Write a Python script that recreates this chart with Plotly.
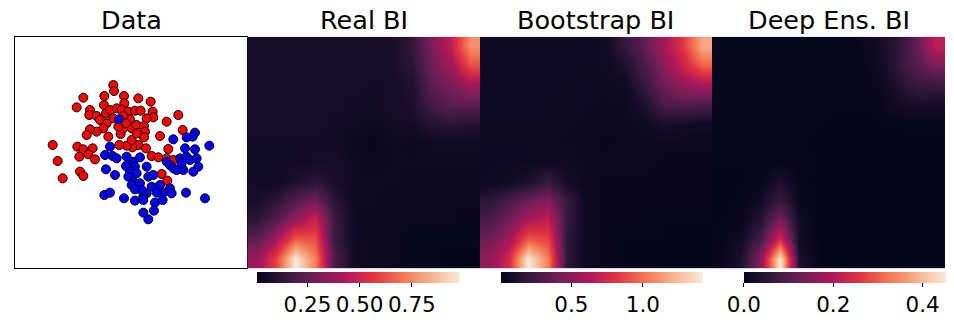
import numpy as np
import plotly.graph_objects as go

# ---------------- data ----------------
titles = ["Data", "Real BI", "Bootstrap BI", "Deep Ens. BI"]

red_x = [3.40, 3.42, 3.13, 3.72, 4.15, 4.52, 2.50, 2.30, 3.12, 3.73, 2.70, 2.68, 2.90, 3.00,
         3.18, 3.30, 3.50, 3.65, 3.85, 4.05, 4.22, 4.58, 4.60, 4.40, 3.90, 3.70, 3.40, 3.20,
         3.10, 2.90, 2.70, 2.60, 3.25, 3.62, 3.70, 3.95, 4.10, 4.32, 4.35, 4.32, 4.80, 5.00,
         5.35, 5.48, 5.05, 4.15, 3.97, 3.80, 3.58, 4.38, 4.55, 4.75, 5.00, 5.20, 1.58, 2.32,
         2.50, 2.78, 2.65, 2.38, 2.85, 1.73, 1.88, 2.40, 2.50, 4.85, 5.02, 3.95, 4.10, 3.55,
         3.78]
red_y = [5.70, 5.52, 5.37, 5.37, 5.30, 5.20, 5.32, 5.03, 5.10, 5.15, 4.95, 4.80, 4.77, 4.65,
         4.85, 4.95, 5.00, 4.95, 4.90, 4.93, 4.93, 4.90, 4.73, 4.70, 4.67, 4.77, 4.70, 4.55,
         4.40, 4.30, 4.37, 4.20, 4.15, 4.23, 4.40, 4.40, 4.50, 4.47, 4.30, 4.13, 4.17, 4.60,
         4.80, 4.35, 3.78, 3.90, 3.83, 3.88, 3.90, 3.80, 3.57, 3.53, 3.50, 3.45, 3.90, 3.85,
         3.77, 3.80, 3.62, 3.55, 3.47, 3.42, 2.90, 3.10, 2.97, 3.03, 2.83, 4.05, 4.25, 4.45,
         4.55]

blue_x = [3.57, 5.85, 5.78, 5.60, 5.20, 6.28, 5.55, 5.85, 3.30, 3.15, 3.38, 3.50, 3.80, 4.00,
          4.20, 3.78, 4.05, 3.90, 4.10, 4.40, 5.00, 5.10, 5.40, 5.60, 5.70, 5.90, 5.95, 5.80,
          5.50, 5.20, 3.18, 3.45, 3.85, 4.00, 3.95, 4.20, 4.45, 4.60, 4.55, 4.80, 4.90, 5.10,
          5.15, 4.70, 4.40, 4.30, 4.25, 4.05, 3.13, 3.30, 3.72, 4.05, 4.30, 4.65, 4.88, 5.58,
          6.15, 4.62, 4.30, 4.45, 5.30, 5.45]
blue_y = [4.67, 4.27, 4.15, 4.13, 4.07, 3.88, 3.80, 3.77, 3.85, 3.60, 3.57, 3.50, 3.55, 3.40,
          3.53, 3.27, 3.25, 3.10, 3.05, 3.25, 3.40, 3.30, 3.50, 3.55, 3.45, 3.50, 3.25, 3.10,
          3.15, 3.20, 3.17, 3.00, 2.95, 2.80, 2.70, 2.75, 2.95, 3.00, 2.65, 2.70, 2.47, 2.60,
          2.45, 2.47, 2.45, 2.35, 2.55, 2.57, 2.40, 2.47, 2.30, 2.23, 2.25, 2.17, 2.25, 2.47,
          2.30, 1.93, 1.87, 1.67, 3.15, 3.35]

# heat-map grids (12 x 12, first row = top of the panel)
real_bi = [
    [0.06, 0.06, 0.06, 0.06, 0.06, 0.06, 0.06, 0.07, 0.14, 0.31, 0.48, 0.76],
    [0.06, 0.06, 0.06, 0.06, 0.06, 0.06, 0.06, 0.07, 0.12, 0.28, 0.40, 0.62],
    [0.06, 0.06, 0.06, 0.06, 0.06, 0.06, 0.05, 0.06, 0.09, 0.24, 0.31, 0.40],
    [0.06, 0.06, 0.06, 0.06, 0.06, 0.05, 0.05, 0.06, 0.08, 0.19, 0.24, 0.24],
    [0.06, 0.06, 0.06, 0.06, 0.05, 0.05, 0.04, 0.05, 0.06, 0.10, 0.12, 0.10],
    [0.05, 0.05, 0.05, 0.05, 0.05, 0.03, 0.02, 0.04, 0.03, 0.05, 0.05, 0.05],
    [0.05, 0.05, 0.05, 0.06, 0.07, 0.04, 0.03, 0.04, 0.04, 0.04, 0.04, 0.04],
    [0.05, 0.05, 0.08, 0.12, 0.07, 0.04, 0.04, 0.04, 0.03, 0.03, 0.03, 0.03],
    [0.07, 0.12, 0.22, 0.30, 0.12, 0.04, 0.04, 0.03, 0.03, 0.03, 0.03, 0.03],
    [0.12, 0.22, 0.38, 0.50, 0.16, 0.04, 0.03, 0.03, 0.03, 0.03, 0.03, 0.02],
    [0.25, 0.42, 0.66, 0.62, 0.16, 0.04, 0.03, 0.03, 0.02, 0.02, 0.02, 0.02],
    [0.38, 0.60, 0.98, 0.72, 0.20, 0.05, 0.03, 0.03, 0.02, 0.02, 0.01, 0.008],
]
bootstrap_bi = [
    [0.06, 0.06, 0.06, 0.06, 0.06, 0.06, 0.06, 0.21, 0.35, 0.58, 0.82, 1.18],
    [0.06, 0.06, 0.06, 0.06, 0.06, 0.06, 0.06, 0.11, 0.28, 0.50, 0.72, 0.95],
    [0.06, 0.06, 0.06, 0.06, 0.06, 0.06, 0.05, 0.06, 0.21, 0.41, 0.53, 0.60],
    [0.06, 0.06, 0.06, 0.06, 0.06, 0.05, 0.05, 0.05, 0.11, 0.28, 0.30, 0.28],
    [0.06, 0.06, 0.06, 0.06, 0.05, 0.05, 0.04, 0.04, 0.05, 0.11, 0.08, 0.07],
    [0.05, 0.05, 0.05, 0.05, 0.05, 0.04, 0.03, 0.04, 0.04, 0.04, 0.04, 0.04],
    [0.05, 0.05, 0.05, 0.06, 0.06, 0.04, 0.04, 0.04, 0.04, 0.03, 0.03, 0.03],
    [0.05, 0.06, 0.11, 0.21, 0.08, 0.04, 0.03, 0.03, 0.03, 0.03, 0.03, 0.03],
    [0.17, 0.28, 0.39, 0.48, 0.21, 0.04, 0.03, 0.03, 0.03, 0.03, 0.03, 0.03],
    [0.28, 0.41, 0.62, 0.69, 0.21, 0.04, 0.03, 0.03, 0.03, 0.02, 0.02, 0.02],
    [0.41, 0.58, 0.94, 0.86, 0.17, 0.04, 0.03, 0.02, 0.02, 0.02, 0.02, 0.01],
    [0.52, 0.76, 1.42, 1.04, 0.17, 0.04, 0.03, 0.02, 0.02, 0.01, 0.01, 0.006],
]
deep_ens_bi = [
    [0.005, 0.005, 0.005, 0.005, 0.005, 0.005, 0.005, 0.008, 0.02, 0.05, 0.11, 0.21],
    [0.005, 0.005, 0.005, 0.005, 0.005, 0.005, 0.005, 0.005, 0.015, 0.05, 0.10, 0.14],
    [0.005, 0.005, 0.005, 0.005, 0.005, 0.005, 0.005, 0.005, 0.01, 0.035, 0.07, 0.07],
    [0.005, 0.005, 0.005, 0.005, 0.005, 0.005, 0.005, 0.005, 0.005, 0.02, 0.03, 0.027],
    [0.005, 0.005, 0.005, 0.005, 0.005, 0.005, 0.004, 0.004, 0.004, 0.005, 0.006, 0.006],
    [0.005, 0.005, 0.005, 0.005, 0.005, 0.004, 0.003, 0.004, 0.003, 0.003, 0.003, 0.003],
    [0.005, 0.005, 0.005, 0.006, 0.006, 0.004, 0.003, 0.003, 0.003, 0.003, 0.003, 0.003],
    [0.004, 0.004, 0.006, 0.035, 0.006, 0.003, 0.003, 0.003, 0.002, 0.002, 0.002, 0.002],
    [0.004, 0.005, 0.02, 0.07, 0.008, 0.003, 0.002, 0.002, 0.002, 0.002, 0.002, 0.002],
    [0.004, 0.008, 0.045, 0.14, 0.02, 0.003, 0.002, 0.002, 0.002, 0.001, 0.001, 0.001],
    [0.006, 0.02, 0.09, 0.25, 0.02, 0.003, 0.002, 0.001, 0.001, 0.001, 0.001, 0.0],
    [0.008, 0.035, 0.16, 0.454, 0.035, 0.003, 0.002, 0.001, 0.001, 0.0, 0.0, 0.0],
]
cbar_ticks = [[0.25, 0.50, 0.75], [0.5, 1.0], [0.0, 0.2, 0.4]]
cbar_formats = [".2f", ".1f", ".1f"]

# ---------------- style ----------------
# the page body has an 8 px default margin, so the figure is placed 8 px in
OFF = 8
W, H = 954 - OFF, 323 - OFF
rocket = [
    [0.0, "#03051a"], [1 / 7, "#35193e"], [2 / 7, "#701f57"], [3 / 7, "#ad1759"],
    [4 / 7, "#e13342"], [5 / 7, "#f37651"], [6 / 7, "#f6b48f"], [1.0, "#faebdd"],
]
FONT = "DejaVu Sans"

def fx(p):          # page pixel x -> paper x
    return (p - OFF) / W

def fy(p):          # page pixel y (from top) -> paper y
    return 1 - (p - OFF) / H

x_domains = [[fx(15), fx(247.3)], [fx(247.3), fx(480)], [fx(480), fx(712)], [fx(712), fx(945)]]
y_domain = [fy(268.3), fy(36.7)]
cbar_px = [(256.7, 460.0), (500.8, 702.8), (743.6, 947.0)]

fig = go.Figure()

# scatter panel
for xs, ys, col in [(red_x, red_y, "#ff0000"), (blue_x, blue_y, "#0000ff")]:
    fig.add_trace(go.Scatter(
        x=xs, y=ys, mode="markers", xaxis="x", yaxis="y", showlegend=False,
        marker=dict(size=9, color=col, line=dict(color="black", width=1)),
    ))

grids = [real_bi, bootstrap_bi, deep_ens_bi]
for i, g in enumerate(grids):
    z = np.array(g)
    a, b = cbar_px[i]
    ax = str(i + 2)
    fig.add_trace(go.Heatmap(
        z=z, x=list(range(z.shape[1])), y=list(range(z.shape[0])),
        xaxis="x" + ax, yaxis="y" + ax, zsmooth="best",
        colorscale=rocket, zmin=float(z.min()), zmax=float(z.max()),
        hoverinfo="skip",
        colorbar=dict(
            orientation="h", x=(fx(a) + fx(b)) / 2, xanchor="center", lenmode="fraction",
            len=(b - a) / W, thickness=11, thicknessmode="pixels",
            y=fy(272.3), yanchor="top", outlinewidth=0, xpad=0, ypad=0,
            ticks="outside", ticklen=4, tickwidth=1, tickcolor="black",
            tickvals=cbar_ticks[i], tickformat=cbar_formats[i],
            tickfont=dict(family=FONT, size=21.5, color="black"),
        ),
    ))

layout = dict(
    width=W, height=H, margin=dict(l=0, r=0, t=0, b=0, autoexpand=False),
    paper_bgcolor="white", plot_bgcolor="white", showlegend=False,
)
layout["xaxis"] = dict(domain=x_domains[0], range=[0.45, 7.42], showticklabels=False,
                       ticks="", showgrid=False, zeroline=False, showline=True,
                       linecolor="black", linewidth=1, mirror=True)
layout["yaxis"] = dict(domain=y_domain, range=[0.20, 7.15], showticklabels=False,
                       ticks="", showgrid=False, zeroline=False, showline=True,
                       linecolor="black", linewidth=1, mirror=True)
for i in range(3):
    ax = str(i + 2)
    layout["xaxis" + ax] = dict(domain=x_domains[i + 1], range=[-0.5, 11.5], visible=False,
                                 anchor="y" + ax)
    layout["yaxis" + ax] = dict(domain=y_domain, range=[11.5, -0.5], visible=False,
                                 anchor="x" + ax)
fig.update_layout(**layout)

for i, t in enumerate(titles):
    d = x_domains[i]
    fig.add_annotation(text=t, x=(d[0] + d[1]) / 2, y=fy(20.5), xref="paper", yref="paper",
                       xanchor="center", yanchor="middle", showarrow=False, borderpad=0,
                       font=dict(family=FONT, size=25.5, color="black"))

fig.write_html("out.html")
